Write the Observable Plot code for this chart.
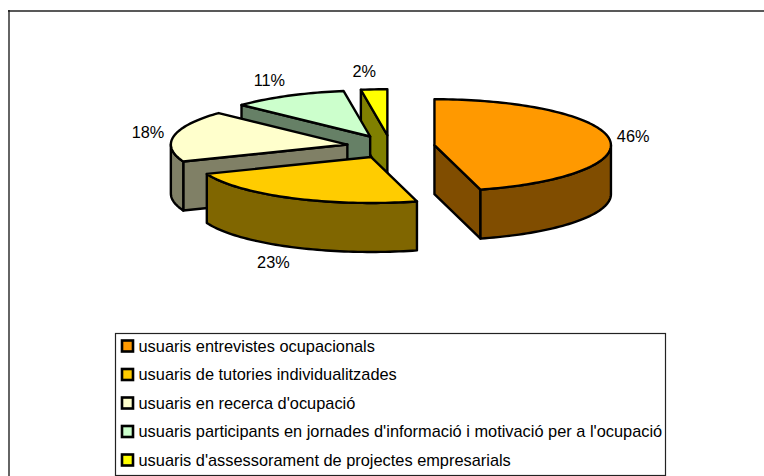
<!DOCTYPE html>
<html>
<head>
<meta charset="utf-8">
<script src="https://cdn.jsdelivr.net/npm/d3@7"></script>
<script src="https://cdn.jsdelivr.net/npm/@observablehq/plot@0.6"></script>
<style>html,body{margin:0;padding:0;background:#fff}svg{display:block}</style>
</head>
<body>
<div id="chart"></div>
<script>
const categories = [
  "usuaris entrevistes ocupacionals",
  "usuaris de tutories individualitzades",
  "usuaris en recerca d'ocupació",
  "usuaris participants en jornades d'informació i motivació per a l'ocupació",
  "usuaris d'assessorament de projectes empresarials"
];
const values = [45.8, 23.2, 18, 10.6, 2.4];
const topColors = ["#FF9900", "#FFCC00", "#FFFFCC", "#CCFFCC", "#FFFF00"];
const wallColors = ["#804D00", "#806600", "#808066", "#668066", "#808000"];

const W = 764, H = 476;
const cx = 390.2, cy = 146.2, rx = 176.5, ry = 46, depth = 49, explode = 0.25;
const total = d3.sum(values);
const rad = d => d / 180 * Math.PI;

let acc = 0;
const slices = values.map((v, i) => {
  const a0 = acc / total * 360; acc += v;
  const a1 = acc / total * 360, mid = (a0 + a1) / 2;
  return {i, v, a0, a1, mid,
    ax: cx + explode * rx * Math.sin(rad(mid)),
    ay: cy - explode * ry * Math.cos(rad(mid))};
});
const rim = (s, a, dz = 0) => ({x: s.ax + rx * Math.sin(rad(a)), y: s.ay - ry * Math.cos(rad(a)) + dz});
const arc = (s, a0, a1, dz = 0) => {
  const n = Math.max(2, Math.ceil((a1 - a0) / 1.5));
  return d3.range(n + 1).map(k => rim(s, a0 + (a1 - a0) * k / n, dz));
};

// faces of the extruded slices, back to front
const faces = [];
const addFace = (name, color, pts) => pts.forEach(p => faces.push({...p, face: name, color}));
[...slices].reverse().forEach(s => {
  const wall = wallColors[s.i], apex = {x: s.ax, y: s.ay}, apexLow = {x: s.ax, y: s.ay + depth};
  const radial = a => {
    const p = rim(s, a), q = rim(s, a, depth);
    addFace(`r${s.i}-${a}`, wall, [apex, p, q, apexLow]);
  };
  if (Math.sin(rad(s.a0)) < -1e-6) radial(s.a0);
  if (Math.sin(rad(s.a1)) > 1e-6) radial(s.a1);
  const lo = Math.max(s.a0, 90), hi = Math.min(s.a1, 270);
  if (lo < hi) addFace(`o${s.i}`, wall, [...arc(s, lo, hi), ...arc(s, lo, hi, depth).reverse()]);
  addFace(`t${s.i}`, topColors[s.i], [apex, ...arc(s, s.a0, s.a1)]);
});

const labels = slices.map(s => ({
  text: d3.format(".0f")(s.v) + "%",
  x: s.ax + Math.sin(rad(s.mid)) * (rx + 25) - 8 * Math.abs(Math.cos(rad(s.mid))),
  y: s.ay - Math.cos(rad(s.mid)) * (ry + 17.5) + (Math.cos(rad(s.mid)) < 0 ? depth : 0)
}));

const rowY = i => 346 + i * 28.5;
const legend = categories.map((c, i) => ({c, i, color: topColors[i], y: rowY(i)}));
const font = "'Liberation Sans', Arial, sans-serif";

const plot = Plot.plot({
  width: W, height: H, margin: 0,
  x: {domain: [0, W], range: [0, W], axis: null},
  y: {domain: [0, H], range: [0, H], axis: null},
  color: {type: "identity"},
  style: {background: "#fff", fontFamily: font},
  marks: [
    // outer chart frame (top and left edges)
    Plot.ruleY([10.5], {x1: 8, x2: W, stroke: "#222", strokeWidth: 1.6}),
    Plot.ruleX([8.5], {y1: 10, y2: H, stroke: "#111", strokeWidth: 1.3}),
    Plot.line(faces, {x: "x", y: "y", z: "face", fill: "color", stroke: "#000", strokeWidth: 2.4,
      curve: "linear-closed", strokeLinejoin: "round", strokeOpacity: 1}),
    Plot.text(labels, {x: "x", y: "y", text: "text", fontSize: 16.3, fill: "#000"}),
    Plot.rect([0], {x1: 115.5, x2: 665.5, y1: 333.5, y2: 475.5, fill: "#fff", stroke: "#222", strokeWidth: 1.2}),
    Plot.rect(legend, {x1: 122, x2: 133, y1: d => d.y - 5.5, y2: d => d.y + 5.5, fill: "color", stroke: "#000", strokeWidth: 2.6}),
    Plot.text(legend, {x: 138, y: "y", text: "c", textAnchor: "start", fontSize: 16.37, fill: "#000"})
  ]
});
document.getElementById("chart").appendChild(plot);
</script>
</body>
</html>
